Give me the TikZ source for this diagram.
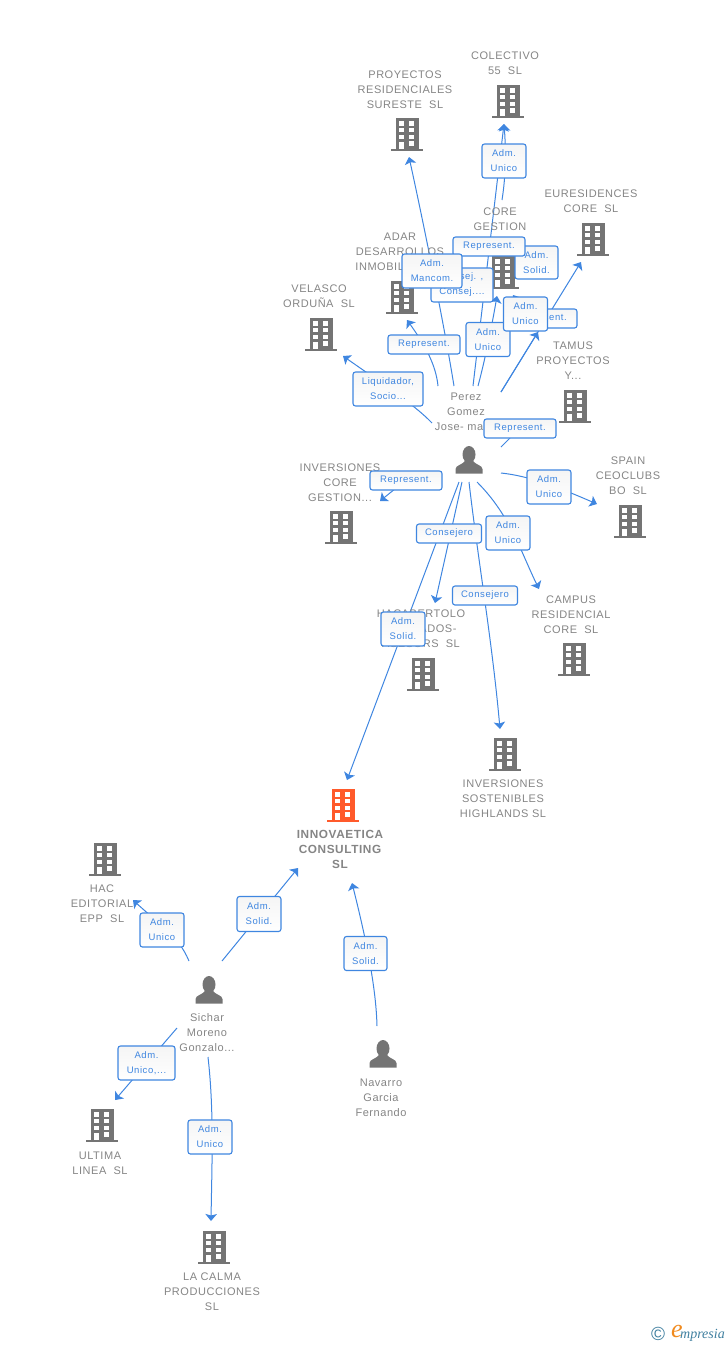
\documentclass[tikz,border=0pt]{standalone}
\usepackage{fontspec}
\usetikzlibrary{arrows.meta}
\setmainfont{Liberation Sans}
\newfontfamily\lblfont[LetterSpace=5]{Liberation Sans}
\newfontfamily\boxfont[LetterSpace=6]{Liberation Sans}
\newfontfamily\logofont{Liberation Serif}
\definecolor{linkblue}{HTML}{3F86E0}
\definecolor{iconGray}{HTML}{747474}
\definecolor{txtGray}{HTML}{858585}
\definecolor{mainOrange}{HTML}{FF5A2B}
\definecolor{logoTeal}{HTML}{3F7F9F}
\definecolor{logoOrange}{HTML}{F08A1E}
\tikzset{
  lbl/.style={font=\lblfont\fontsize{11}{15}\selectfont,text=txtGray,align=center,inner sep=0pt},
  lnk/.style={draw=linkblue,line width=1.1pt,rounded corners=2.5pt,top color=black!4,bottom color=white,
    font=\boxfont\fontsize{9.5}{15}\selectfont,text=linkblue,align=center,inner sep=0pt},
  conn/.style={draw=linkblue,line width=1pt},
  tip/.style={conn,-{Stealth[length=7pt,width=11.5pt,inset=1.5pt]}},
  bldgbody/.style={fill=#1,minimum width=23,minimum height=33,inner sep=0pt},
  persbody/.style={minimum width=28,minimum height=28,inner sep=0pt},
}
% building icon: name, position, colour
\newcommand{\bldg}[3]{%
  \node[bldgbody=#3] (#1) at (#2) {};
  \fill[#3] ([shift={(-16,15)}]#1.center) rectangle ([shift={(16,17)}]#1.center);
  \foreach \bx in {-8,2}{
    \foreach \by in {-12.8,-6.2,0.5}{
      \fill[white] ([shift={(\bx,\by)}]#1.center) rectangle ++(5.3,4.6);
    }
  }
  \fill[white] ([shift={(2,7.2)}]#1.center) rectangle ++(5.3,4.6);
  \fill[white] ([shift={(-8,7.5)}]#1.center) rectangle ++(5.3,7.5);
}
% person icon: name, position
\newcommand{\pers}[2]{%
  \node[persbody] (#1) at (#2) {};
  \fill[iconGray] ([shift={(0,-5.5)}]#1.center) ellipse (6.5 and 8.5);
  \fill[iconGray] ([shift={(-13.5,13.5)}]#1.center) -- ([shift={(-13.5,9)}]#1.center)
    .. controls ([shift={(-13,5)}]#1.center) and ([shift={(-7,5)}]#1.center) .. ([shift={(-4,1)}]#1.center)
    -- ([shift={(4,1)}]#1.center)
    .. controls ([shift={(7,5)}]#1.center) and ([shift={(13,5)}]#1.center) .. ([shift={(13.5,9)}]#1.center)
    -- ([shift={(13.5,13.5)}]#1.center) -- cycle;
}
\begin{document}
\begin{tikzpicture}[x=1pt,y=-1pt]
  \useasboundingbox (0,0) rectangle (728,1345);

  % free ends of the connectors
  \coordinate (pA) at (454,386);  \coordinate (tA) at (409,157);
  \coordinate (pB) at (473,386);  \coordinate (tB) at (504,124);
  \coordinate (cA) at (502,200);
  \coordinate (pC) at (478,386);  \coordinate (tC) at (497,296);
  \coordinate (pD) at (501,392);  \coordinate (tD) at (581,262);
  \coordinate (tE) at (538,332);
  \coordinate (cU) at (525,314);  \coordinate (tU) at (513,295);
  \coordinate (pF) at (438,386);  \coordinate (tF) at (407,320);
  \coordinate (pG) at (432,423);  \coordinate (tG) at (343,356);
  \coordinate (pH) at (501,447);  \coordinate (cH) at (520,428);
  \coordinate (cI) at (406,480);  \coordinate (tI) at (380,501);
  \coordinate (pJ) at (501,473);  \coordinate (tJ) at (597,504);
  \coordinate (pK) at (477,482);  \coordinate (tK) at (539,589);
  \coordinate (pL) at (462,482);  \coordinate (tL) at (435,603);
  \coordinate (pM) at (469,482);  \coordinate (tM) at (500,729);
  \coordinate (pN) at (459,482);  \coordinate (tN) at (347,780);
  \coordinate (sA) at (189,961);  \coordinate (tP) at (133,900);
  \coordinate (sB) at (222,961);  \coordinate (tQ) at (298,868);
  \coordinate (nA) at (377,1026); \coordinate (tR) at (352,883);
  \coordinate (sC) at (177,1028); \coordinate (tS) at (115,1100);
  \coordinate (sD) at (208,1057); \coordinate (tT) at (211,1221);

  % connectors
  \draw[tip] (pA) .. controls (445,330) and (425,230) .. (tA);
  \draw[tip] (pB) -- (tB);
  \draw[tip] (cA) .. controls (506,175) and (506,150) .. (tB);
  \draw[tip] (pC) .. controls (485,360) and (492,325) .. (tC);
  \draw[tip] (pD) -- (tD);
  \draw[tip] (pD) -- (tE);
  \draw[tip] (cU) -- (tU);
  \draw[tip] (pF) .. controls (436,365) and (425,345) .. (tF);
  \draw[tip] (pG) .. controls (415,405) and (380,382) .. (tG);
  \draw[conn] (pH) -- (cH);
  \draw[tip] (cI) -- (tI);
  \draw[tip] (pJ) .. controls (530,476) and (560,488) .. (tJ);
  \draw[tip] (pK) .. controls (510,515) and (520,550) .. (tK);
  \draw[tip] (pL) -- (tL);
  \draw[tip] (pM) .. controls (478,560) and (492,640) .. (tM);
  \draw[tip] (pN) -- (tN);
  \draw[tip] (sA) .. controls (178,935) and (160,925) .. (tP);
  \draw[tip] (sB) -- (tQ);
  \draw[tip] (nA) .. controls (376,985) and (365,935) .. (tR);
  \draw[tip] (sC) -- (tS);
  \draw[tip] (sD) .. controls (214,1110) and (212,1160) .. (tT);

  % buildings
  \bldg{colectivo}{508,101}{iconGray}
  \bldg{proyectos}{407,134}{iconGray}
  \bldg{euresid}{593,239}{iconGray}
  \bldg{coregest}{503,272}{iconGray}
  \bldg{adar}{402,297}{iconGray}
  \bldg{velasco}{321,334}{iconGray}
  \bldg{tamus}{575,406}{iconGray}
  \bldg{invcore}{341,527}{iconGray}
  \bldg{spain}{630,521}{iconGray}
  \bldg{campus}{574,659}{iconGray}
  \bldg{hacabert}{423,674}{iconGray}
  \bldg{invsost}{505,754}{iconGray}
  \bldg{innova}{343,805}{mainOrange}
  \bldg{hac}{105,859}{iconGray}
  \bldg{ultima}{102,1125}{iconGray}
  \bldg{lacalma}{214,1247}{iconGray}

  % persons
  \pers{perez}{469,460}
  \pers{sichar}{209,990}
  \pers{navarro}{383,1054}

  % texts of the nodes
  \node[lbl] (lcolectivo) at (505,63.5) {COLECTIVO\\55\ \ SL};
  \node[lbl] (lproyectos) at (405,90) {PROYECTOS\\RESIDENCIALES\\SURESTE\ \ SL};
  \node[lbl] (leuresid) at (591,201.5) {EURESIDENCES\\CORE\ \ SL};
  \node[lbl] (lcoregest) at (500,219.5) {CORE\\GESTION};
  \node[lbl] (ladar) at (400,252) {ADAR\\DESARROLLOS\\INMOBILIARIOS};
  \node[lbl] (lvelasco) at (319,296.5) {VELASCO\\ORDUÑA\ \ SL};
  \node[lbl] (ltamus) at (573,361) {TAMUS\\PROYECTOS\\Y...};
  \node[lbl] (lperez) at (466,412) {Perez\\Gomez\\Jose- maria};
  \node[lbl] (linvcore) at (340,483) {INVERSIONES\\CORE\\GESTION...};
  \node[lbl] (lspain) at (628,476) {SPAIN\\CEOCLUBS\\BO\ \ SL};
  \node[lbl] (lcampus) at (571,615) {CAMPUS\\RESIDENCIAL\\CORE\ \ SL};
  \node[lbl] (lhacabert) at (421,629) {HACABERTOLO\\ABOGADOS-\\ASESORS\ \ SL};
  \node[lbl] (linvsost) at (503,799) {INVERSIONES\\SOSTENIBLES\\HIGHLANDS SL};
  \node[lbl,font=\lblfont\bfseries\fontsize{11.8}{15}\selectfont] (linnova) at (340,849) {INNOVAETICA\\CONSULTING\\SL};
  \node[lbl] (lhac) at (102,904) {HAC\\EDITORIAL\\EPP\ \ SL};
  \node[lbl] (lsichar) at (207,1033) {Sichar\\Moreno\\Gonzalo...};
  \node[lbl] (lnavarro) at (381,1098) {Navarro\\Garcia\\Fernando};
  \node[lbl] (lultima) at (100,1163) {ULTIMA\\LINEA\ \ SL};
  \node[lbl] (llacalma) at (212,1292) {LA CALMA\\PRODUCCIONES\\SL};

  % boxes on the connectors
  \node[lnk,minimum width=44,minimum height=34] (bcolect) at (504,161) {Adm.\\Unico};
  \node[lnk,minimum width=43,minimum height=33] (bsolid) at (536.5,262.5) {Adm.\\Solid.};
  \node[lnk,minimum width=62,minimum height=34] (bconsej) at (462,285) {Consej. ,\\Consej....};
  \node[lnk,minimum width=72,minimum height=19] (bmancrep) at (489,246.5) {Represent.};
  \node[lnk,minimum width=60,minimum height=34] (bmancom) at (432,271) {Adm.\\Mancom.};
  \node[lnk,minimum width=72,minimum height=19] (bcadar) at (424,344.5) {Represent.};
  \node[lnk,minimum width=44,minimum height=34] (bcunico) at (488,339.5) {Adm.\\Unico};
  \node[lnk,minimum width=72,minimum height=19] (bceures) at (541,318.5) {Represent.};
  \node[lnk,minimum width=44,minimum height=34] (bcunicob) at (525.5,314) {Adm.\\Unico};
  \node[lnk,minimum width=70,minimum height=34] (bliquid) at (388,389) {Liquidador,\\Socio...};
  \node[lnk,minimum width=72,minimum height=19] (btamus) at (520,428.5) {Represent.};
  \node[lnk,minimum width=72,minimum height=19] (binvcore) at (406,480.5) {Represent.};
  \node[lnk,minimum width=44,minimum height=34] (bspain) at (549,487) {Adm.\\Unico};
  \node[lnk,minimum width=65,minimum height=19] (bhacab) at (449,533.5) {Consejero};
  \node[lnk,minimum width=44,minimum height=34] (bcampus) at (508,533) {Adm.\\Unico};
  \node[lnk,minimum width=65,minimum height=19] (bsost) at (485,595.5) {Consejero};
  \node[lnk,minimum width=44,minimum height=34] (binnova) at (403,629) {Adm.\\Solid.};
  \node[lnk,minimum width=44,minimum height=34] (bhac) at (162,930) {Adm.\\Unico};
  \node[lnk,minimum width=44,minimum height=35] (bsolidb) at (259,914) {Adm.\\Solid.};
  \node[lnk,minimum width=43,minimum height=34] (bnavarro) at (365.5,953.5) {Adm.\\Solid.};
  \node[lnk,minimum width=57,minimum height=34] (bultima) at (146.5,1063) {Adm.\\Unico,...};
  \node[lnk,minimum width=44,minimum height=34] (blacalma) at (210,1137) {Adm.\\Unico};

  % mark of the maker
  \node[inner sep=0pt,font=\fontsize{19}{19}\selectfont,text=logoTeal] (logoc) at (658,1334) {©};
  \node[inner sep=0pt,font=\logofont\itshape\fontsize{26}{26}\selectfont,text=logoOrange] (logoe) at (677,1331) {e};
  \node[inner sep=0pt,anchor=base west,font=\logofont\itshape\fontsize{14}{14}\selectfont,text=logoTeal] (logot) at (680,1338) {mpresia};
\end{tikzpicture}
\end{document}
